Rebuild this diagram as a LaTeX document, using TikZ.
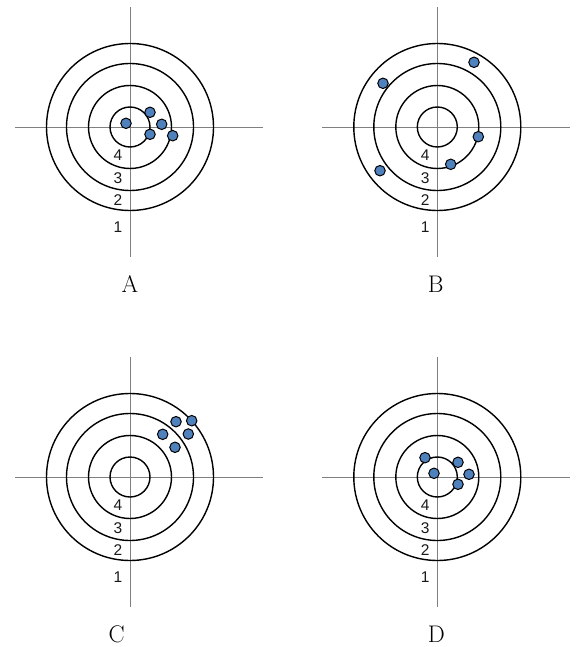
\documentclass[tikz,border=0pt]{standalone}
\usepackage{fontspec}
\newfontfamily\numfont{Liberation Sans}
\usetikzlibrary{positioning}
\definecolor{shotblue}{HTML}{4F81BD}
\tikzset{
  ring/.style={draw=black, line width=1.4pt},
  cross/.style={draw=black!50, line width=0.9pt},
  shot/.style={circle, draw=black, fill=shotblue, line width=1pt, minimum size=10.5pt, inner sep=0pt},
  ringnum/.style={font=\numfont\fontsize{15.5}{16}\selectfont, text=black!90, inner sep=0pt},
  caption/.style={font=\fontsize{24}{24}\selectfont, inner sep=0pt}
}
\begin{document}
\begin{tikzpicture}[x=1pt, y=-1pt]
\useasboundingbox (0,0) rectangle (578,647);
% four targets: centre, caption, caption shift
\foreach \cx/\cy/\lab/\dx in {130/127/A/0, 437.3/127/B/-1.5, 130/477/C/-13.3, 437.3/477/D/-1} {
  \draw[cross] (\cx-115,\cy) -- (\cx+133,\cy);
  \draw[cross] (\cx,\cy-120) -- (\cx,\cy+130);
  \foreach \r in {20,41.5,63.5,83.5} {\draw[ring] (\cx,\cy) circle (\r);}
  \node[ringnum] (\lab-n4) at (\cx-12,\cy+28) {4};
  \node[ringnum] (\lab-n3) at (\cx-12,\cy+51) {3};
  \node[ringnum] (\lab-n2) at (\cx-12,\cy+73.5) {2};
  \node[ringnum] (\lab-n1) at (\cx-12,\cy+100.5) {1};
  \node[caption] (\lab-cap) at (\cx+\dx,\cy+157) {\lab};
}
% shots on A
\foreach \x/\y [count=\i] in {126/123.3, 150/112.3, 161.7/124.3, 150/134.3, 172.7/135.7}
  {\node[shot] (A-s\i) at (\x,\y) {};}
% shots on B
\foreach \x/\y [count=\i] in {383/83.3, 474/62.3, 478.3/136.7, 450.7/164.3, 380/170.7}
  {\node[shot] (B-s\i) at (\x,\y) {};}
% shots on C
\foreach \x/\y [count=\i] in {176/421.7, 191.7/420.7, 162.7/434.3, 188.3/434, 175/447.3}
  {\node[shot] (C-s\i) at (\x,\y) {};}
% shots on D
\foreach \x/\y [count=\i] in {425/457.7, 434/473.3, 458/462.3, 469/474.3, 458/484.3}
  {\node[shot] (D-s\i) at (\x,\y) {};}
\end{tikzpicture}
\end{document}
